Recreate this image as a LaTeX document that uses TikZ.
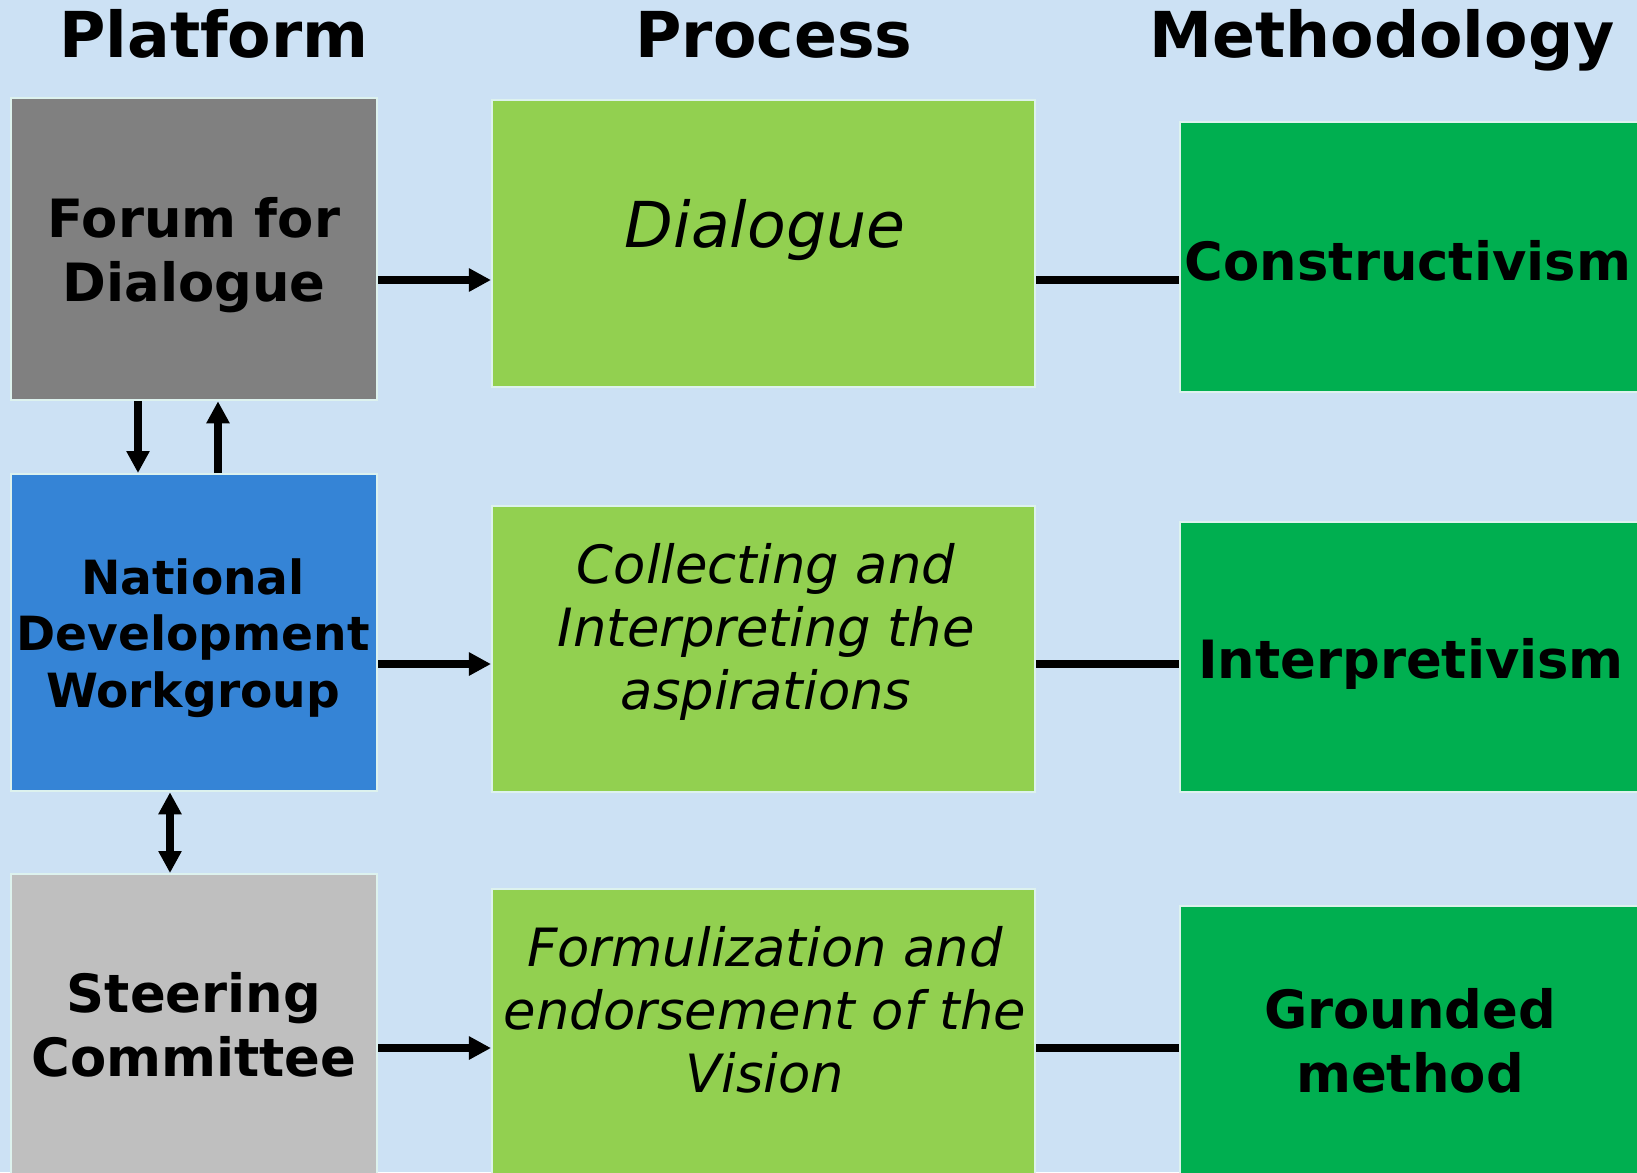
\documentclass[tikz,border=0pt]{standalone}
\usepackage{fontspec}
\setmainfont{DejaVu Sans}
\usepackage{tikz}
\usetikzlibrary{positioning}
\usetikzlibrary{arrows.meta}
\definecolor{bgcol}{HTML}{CCE1F4}
\definecolor{edgecol}{HTML}{DDF2EE}
\definecolor{platgray}{HTML}{808080}
\definecolor{platblue}{HTML}{3584D6}
\definecolor{platlight}{HTML}{BFBFBF}
\definecolor{proccol}{HTML}{92D050}
\definecolor{methcol}{HTML}{00AF50}
\tikzset{>={Triangle[length=2.2mm,width=2.2mm]}}

\begin{document}
\begin{tikzpicture}[x=0.01cm,y=-0.01cm,
  box/.style={draw=edgecol,line width=0.6pt,anchor=north west,inner sep=0pt},
  head/.style={anchor=base,font=\fontsize{18}{22}\selectfont\bfseries},
  bold/.style={align=center,font=\fontsize{15}{18.2}\selectfont\bfseries},
  ital/.style={align=center,font=\fontsize{15}{17.9}\selectfont\itshape},
  link/.style={line width=2.1pt}]

% Background
\useasboundingbox (0,0) rectangle (1637,1172);
\fill[bgcol] (0,0) rectangle (1637,1172);
\clip (0,0) rectangle (1637,1172);

% Platform
\node[box,fill=platgray,minimum width=3.66cm,minimum height=3.02cm] (forum) at (10,97) {};
\node[box,fill=platblue,minimum width=3.66cm,minimum height=3.17cm] (ndw) at (10,473) {};
\node[box,fill=platlight,minimum width=3.66cm,minimum height=3.20cm] (steer) at (10,873) {};

% Process
\node[box,fill=proccol,minimum width=5.43cm,minimum height=2.87cm] (dial) at (491,99) {};
\node[box,fill=proccol,minimum width=5.43cm,minimum height=2.86cm] (coll) at (491,505) {};
\node[box,fill=proccol,minimum width=5.43cm,minimum height=3.10cm] (form) at (491,888) {};

% Methodology
\node[box,fill=methcol,minimum width=4.70cm,minimum height=2.70cm] (cons) at (1179,121) {};
\node[box,fill=methcol,minimum width=4.70cm,minimum height=2.70cm] (interp) at (1179,521) {};
\node[box,fill=methcol,minimum width=4.70cm,minimum height=2.90cm] (grnd) at (1179,905) {};

% Headers
\node[head] (hplat) at (214,57) {Platform};
\node[head] (hproc) at (774,57) {Process};
\node[head] (hmeth) at (1382,57) {Methodology};

% Labels
\node[bold] (forumtxt) at (194,255) {Forum for\\Dialogue};
\node[ital,font=\fontsize{18}{21}\selectfont\itshape,anchor=base] (dialtxt) at (765,247) {Dialogue};
\node[bold,anchor=base] (constxt) at (1408,280) {Constructivism};
\node[bold,font=\fontsize{13.4}{16.1}\selectfont\bfseries] (ndwtxt) at (193,638) {National\\Development\\Workgroup};
\node[ital] (colltxt) at (766,632) {Collecting and\\Interpreting the\\aspirations};
\node[bold,anchor=base] (interptxt) at (1411,678) {Interpretivism};
\node[bold] (steertxt) at (194,1025) {Steering\\Committee};
\node[ital] (formtxt) at (765,1010) {Formulization and\\endorsement of the\\Vision};
\node[bold] (grndtxt) at (1410,1041) {Grounded\\method};

% Rows and columns of the links
\coordinate (rowa) at (0,280);
\coordinate (rowb) at (0,664);
\coordinate (rowc) at (0,1048);
\coordinate (dn) at (138,0);
\coordinate (up) at (218,0);
\coordinate (both) at (170,0);

% Arrows
\draw[link,->] (forum.east |- rowa) -- (dial.west |- rowa);
\draw[link,->] (ndw.east |- rowb) -- (coll.west |- rowb);
\draw[link,->] (steer.east |- rowc) -- (form.west |- rowc);
\draw[link] (dial.east |- rowa) -- (cons.west |- rowa);
\draw[link] (coll.east |- rowb) -- (interp.west |- rowb);
\draw[link] (form.east |- rowc) -- (grnd.west |- rowc);
\draw[link,->] (forum.south -| dn) -- (ndw.north -| dn);
\draw[link,->] (ndw.north -| up) -- (forum.south -| up);
\draw[link,<->] (ndw.south -| both) -- (steer.north -| both);
\end{tikzpicture}
\end{document}
